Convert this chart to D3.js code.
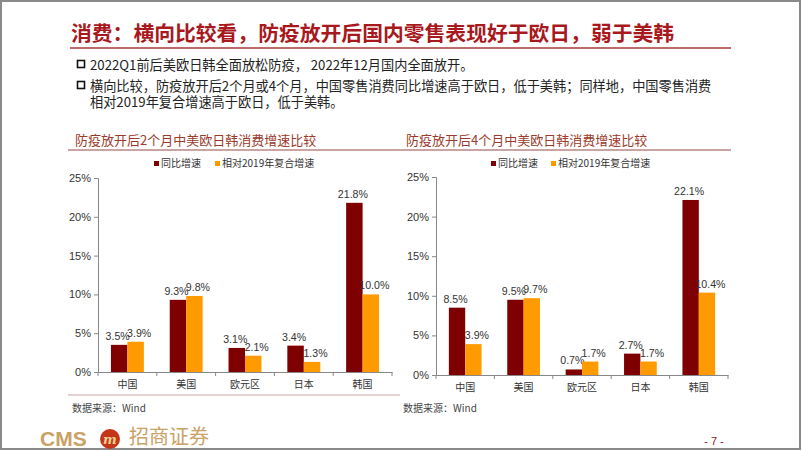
<!DOCTYPE html>
<html>
<head>
<meta charset="utf-8">
<script src="https://cdn.jsdelivr.net/npm/d3@7"></script>
<style>
  body { margin: 0; background: #fff; }
  svg { display: block; }
  .cjk { font-family: "Noto Sans CJK SC", sans-serif; }
  .num { font-family: "Liberation Sans", Arial, sans-serif; }
</style>
</head>
<body>
<svg id="page"></svg>
<script>
// chart values
let categories = ["中国", "美国", "欧元区", "日本", "韩国"];
let seriesNames = ["同比增速", "相对2019年复合增速"];
let yoy2m = [3.5, 9.3, 3.1, 3.4, 21.8];
let cagr2m = [3.9, 9.8, 2.1, 1.3, 10.0];
let yoy4m = [8.5, 9.5, 0.7, 2.7, 22.1];
let cagr4m = [3.9, 9.7, 1.7, 1.7, 10.4];
let yTicks = [0, 5, 10, 15, 20, 25];

let colors = ["#7f0000", "#ff9a00"];
let w = 802, h = 451;

let svg = d3.select("#page")
    .attr("width", w)
    .attr("height", h);

// page frame
svg.append("rect")
    .attr("x", 1).attr("y", 1)
    .attr("width", w - 3).attr("height", h - 3)
    .attr("fill", "none")
    .attr("stroke", "#8a8a8a")
    .attr("stroke-width", 2);

// headline
svg.append("text")
    .attr("class", "cjk")
    .attr("x", 71).attr("y", 41)
    .attr("font-size", 20.8)
    .attr("font-weight", "bold")
    .attr("fill", "#a8191e")
    .text("消费：横向比较看，防疫放开后国内零售表现好于欧日，弱于美韩");

svg.append("line")
    .attr("x1", 70).attr("x2", 731)
    .attr("y1", 48).attr("y2", 48)
    .attr("stroke", "#a8383a")
    .attr("stroke-width", 1.6);

// bullets
let bullets = [
    { y: 70, lines: ["2022Q1前后美欧日韩全面放松防疫， 2022年12月国内全面放开。"] },
    { y: 91, lines: ["横向比较，防疫放开后2个月或4个月，中国零售消费同比增速高于欧日，低于美韩；同样地，中国零售消费",
                     "相对2019年复合增速高于欧日，低于美韩。"] }
];
bullets.forEach(function (b) {
    svg.append("rect")
        .attr("x", 77.5).attr("y", b.y - 9.5)
        .attr("width", 7).attr("height", 7)
        .attr("fill", "none")
        .attr("stroke", "#111")
        .attr("stroke-width", 1.6);
    b.lines.forEach(function (t, i) {
        svg.append("text")
            .attr("class", "cjk")
            .attr("x", 90).attr("y", b.y + i * 16)
            .attr("font-size", 13.2)
            .attr("fill", "#222")
            .text(t);
    });
});

function drawChart(opt) {
    let g = svg.append("g");

    // chart heading
    g.append("text")
        .attr("class", "cjk")
        .attr("x", opt.titleX).attr("y", 145)
        .attr("font-size", 13)
        .attr("fill", "#9c3b2c")
        .text(opt.title);
    g.append("line")
        .attr("x1", opt.lineX1).attr("x2", opt.lineX2)
        .attr("y1", 150).attr("y2", 150)
        .attr("stroke", "#b98585")
        .attr("stroke-width", 1.3);

    let xScale = d3.scaleBand()
        .domain(categories)
        .range([opt.x0, opt.x1])
        .paddingInner(0.44)
        .paddingOuter(0.22);
    let xSub = d3.scaleBand()
        .domain([0, 1])
        .range([0, xScale.bandwidth()]);
    let yScale = d3.scaleLinear()
        .domain([0, 25])
        .range([opt.y0, opt.y1]);

    // axes
    let yAxis = d3.axisLeft(yScale)
        .tickValues(yTicks)
        .tickSize(4)
        .tickPadding(3)
        .tickFormat(function (d) { return d + "%"; });
    let ya = g.append("g")
        .attr("transform", "translate(" + opt.x0 + ",0)")
        .call(yAxis);
    ya.selectAll("text")
        .attr("class", "num")
        .attr("font-size", 11)
        .attr("fill", "#333");

    let xAxis = d3.axisBottom(xScale)
        .tickSize(0)
        .tickPadding(9);
    let xa = g.append("g")
        .attr("transform", "translate(0," + opt.y0 + ")")
        .call(xAxis);
    xa.selectAll("text")
        .attr("class", "cjk")
        .attr("font-size", 10)
        .attr("fill", "#333");
    // separators between categories
    let seps = d3.range(categories.length + 1).map(function (i) {
        return opt.x0 + i * (opt.x1 - opt.x0) / categories.length;
    });
    xa.selectAll(".sep")
        .data(seps)
        .enter().append("line")
        .attr("x1", function (d) { return d; })
        .attr("x2", function (d) { return d; })
        .attr("y1", 0).attr("y2", 4)
        .attr("stroke", "#888");
    g.selectAll(".domain, .tick line").attr("stroke", "#888");

    // bars
    let series = [opt.yoy, opt.cagr];
    let labelShift = [-1.5, 3.5];
    series.forEach(function (vals, si) {
        let grp = g.append("g");
        grp.selectAll("rect")
            .data(vals)
            .enter().append("rect")
            .attr("x", function (d, i) { return xScale(categories[i]) + xSub(si); })
            .attr("y", function (d) { return yScale(d); })
            .attr("width", xSub.bandwidth())
            .attr("height", function (d) { return opt.y0 - yScale(d); })
            .attr("fill", colors[si]);
        grp.selectAll("text")
            .data(vals)
            .enter().append("text")
            .attr("class", "num")
            .attr("x", function (d, i) { return xScale(categories[i]) + xSub(si) + xSub.bandwidth() / 2 + labelShift[si]; })
            .attr("y", function (d) { return yScale(d) - 5; })
            .attr("text-anchor", "middle")
            .attr("font-size", 10.6)
            .attr("fill", "#333")
            .text(function (d) { return d.toFixed(1) + "%"; });
    });

    // legend
    let lg = g.append("g");
    [0, 1].forEach(function (i) {
        let lx = opt.legendX[i];
        lg.append("rect")
            .attr("x", lx).attr("y", 161)
            .attr("width", 5).attr("height", 5)
            .attr("fill", colors[i]);
        lg.append("text")
            .attr("class", "cjk")
            .attr("x", lx + 7).attr("y", 167)
            .attr("font-size", 10)
            .attr("fill", "#333")
            .text(seriesNames[i]);
    });

    // source
    if (opt.sourceLine) {
        g.append("line")
            .attr("x1", opt.lineX1).attr("x2", opt.lineX2)
            .attr("y1", 395).attr("y2", 395)
            .attr("stroke", "#c9a5a5")
            .attr("stroke-width", 1.2);
    }
    g.append("text")
        .attr("class", "cjk")
        .attr("x", opt.titleX - 3).attr("y", 412)
        .attr("font-size", 10)
        .attr("fill", "#444")
        .text("数据来源：Wind");
}

drawChart({
    title: "防疫放开后2个月中美欧日韩消费增速比较",
    titleX: 75, lineX1: 68, lineX2: 400,
    x0: 98, x1: 392, y0: 372, y1: 178,
    yoy: yoy2m, cagr: cagr2m,
    legendX: [154, 215],
    sourceLine: true
});
drawChart({
    title: "防疫放开后4个月中美欧日韩消费增速比较",
    titleX: 406, lineX1: 400, lineX2: 731,
    x0: 436, x1: 728, y0: 375, y1: 177,
    yoy: yoy4m, cagr: cagr4m,
    legendX: [491, 551],
    sourceLine: false
});

// footer
let foot = svg.append("g");
foot.append("text")
    .attr("class", "num")
    .attr("x", 40).attr("y", 446)
    .attr("font-size", 21)
    .attr("font-weight", "bold")
    .attr("fill", "#c9a266")
    .text("CMS");
foot.append("circle")
    .attr("cx", 110).attr("cy", 439)
    .attr("r", 10)
    .attr("fill", "#c4361a");
foot.append("text")
    .attr("x", 110).attr("y", 444)
    .attr("text-anchor", "middle")
    .attr("font-family", "DejaVu Serif, serif")
    .attr("font-style", "italic")
    .attr("font-weight", "bold")
    .attr("font-size", 13)
    .attr("fill", "#f3d08a")
    .text("m");
foot.append("text")
    .attr("class", "cjk")
    .attr("x", 129).attr("y", 444)
    .attr("font-size", 20)
    .attr("fill", "#c9a266")
    .text("招商证券");
foot.append("text")
    .attr("class", "num")
    .attr("x", 714).attr("y", 445)
    .attr("text-anchor", "middle")
    .attr("font-size", 11)
    .attr("fill", "#8b1a1a")
    .text("- 7 -");
</script>
</body>
</html>
